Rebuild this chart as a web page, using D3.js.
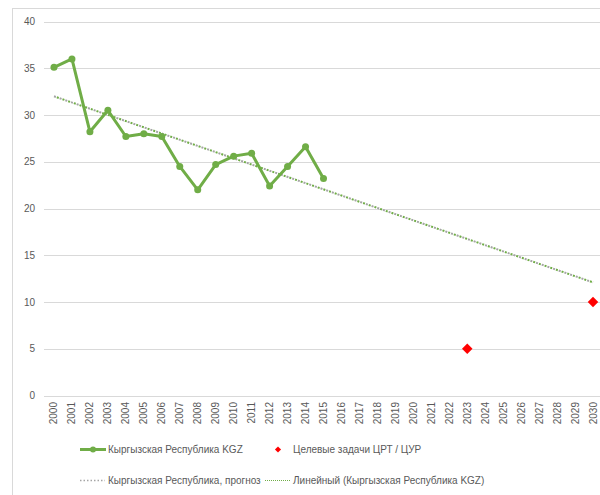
<!DOCTYPE html>
<html>
<head>
<meta charset="utf-8">
<script src="https://cdn.jsdelivr.net/npm/d3@7"></script>
<style>
  body { margin: 0; background: #fff; }
  svg { display: block; font-family: "Liberation Sans", Arial, sans-serif; }
</style>
</head>
<body>
<div class="chartsWrapper"></div>
<script>
// categories on the x axis
var years = d3.range(2000, 2031).map(String)

// Кыргызская Республика KGZ
var kgzYears  = ['2000','2001','2002','2003','2004','2005','2006','2007','2008','2009','2010','2011','2012','2013','2014','2015']
var kgzValues = [35.1, 36.0, 28.2, 30.5, 27.7, 28.0, 27.7, 24.5, 22.0, 24.7, 25.6, 25.9, 22.4, 24.5, 26.6, 23.2]

// targets ЦРТ / ЦУР
var targetYears  = ['2023', '2030']
var targetValues = [5, 10]

// forecast and linear trend (end points)
var forecastYears  = ['2000', '2030']
var forecastValues = [32.0, 12.1]
var trendYears  = ['2000', '2030']
var trendValues = [32.0, 12.1]

var yTicks = [0, 5, 10, 15, 20, 25, 30, 35, 40]

var legendLabels = ['Кыргызская Республика KGZ', 'Целевые задачи ЦРТ / ЦУР',
                    'Кыргызская Республика, прогноз', 'Линейный (Кыргызская Республика KGZ)']

renderChart()

function renderChart () {
    var width = 600, height = 495
    var green = '#70ad47', grey = '#a5a5a5', textCol = '#595959'

    var svg = d3.select('.chartsWrapper').append('svg')
        .attr('width', width)
        .attr('height', height)

    // chart area frame
    svg.append('rect')
        .attr('x', 12.5).attr('y', 8.5)
        .attr('width', 620).attr('height', 520)
        .attr('fill', 'none').attr('stroke', '#d9d9d9')

    var x = d3.scaleBand().domain(years).range([45, 602])
    var y = d3.scaleLinear().domain([0, 40]).range([395.5, 21.5])
    var cx = function (yr) { return x(yr) + x.bandwidth() / 2 }

    // gridlines
    svg.append('g').selectAll('line')
        .data(yTicks).enter().append('line')
        .attr('x1', 44).attr('x2', 602)
        .attr('y1', function (d) { return Math.round(y(d)) + 0.5 })
        .attr('y2', function (d) { return Math.round(y(d)) + 0.5 })
        .attr('stroke', '#d9d9d9').attr('stroke-width', 1)

    // y labels
    svg.append('g').selectAll('text')
        .data(yTicks).enter().append('text')
        .attr('x', 35).attr('y', function (d) { return y(d) + 3.5 })
        .attr('text-anchor', 'end')
        .attr('font-size', 10).attr('fill', textCol)
        .text(function (d) { return d })

    // x labels (rotated)
    svg.append('g').selectAll('text')
        .data(years).enter().append('text')
        .attr('transform', function (d) { return 'translate(' + (cx(d) + 3.5) + ',402) rotate(-90)' })
        .attr('text-anchor', 'end')
        .attr('font-size', 10).attr('fill', textCol)
        .text(function (d) { return d })

    var line = d3.line()
        .x(function (d) { return cx(d[0]) })
        .y(function (d) { return y(d[1]) })

    // forecast + linear trend
    svg.append('path')
        .datum(d3.zip(forecastYears, forecastValues))
        .attr('d', line)
        .attr('fill', 'none').attr('stroke', grey)
        .attr('stroke-width', 2).attr('stroke-dasharray', '2,4')
    svg.append('path')
        .datum(d3.zip(trendYears, trendValues))
        .attr('d', line)
        .attr('fill', 'none').attr('stroke', green)
        .attr('stroke-width', 2).attr('stroke-dasharray', '2,4')
        .attr('stroke-dashoffset', 3)

    // main series
    var kgz = d3.zip(kgzYears, kgzValues)
    svg.append('path')
        .datum(kgz)
        .attr('d', line)
        .attr('fill', 'none').attr('stroke', green)
        .attr('stroke-width', 3).attr('stroke-linejoin', 'round')
    svg.append('g').selectAll('circle')
        .data(kgz).enter().append('circle')
        .attr('cx', function (d) { return cx(d[0]) })
        .attr('cy', function (d) { return y(d[1]) })
        .attr('r', 3.5).attr('fill', green)

    // targets
    var diamond = d3.symbol().type(d3.symbolDiamond2).size(70)
    svg.append('g').selectAll('path')
        .data(d3.zip(targetYears, targetValues)).enter().append('path')
        .attr('d', diamond)
        .attr('transform', function (d) { return 'translate(' + cx(d[0]) + ',' + y(d[1]) + ')' })
        .attr('fill', '#ff0000')

    // legend
    var lg = svg.append('g').attr('font-size', 10).attr('fill', textCol)

    lg.append('line').attr('x1', 80).attr('x2', 106).attr('y1', 449.5).attr('y2', 449.5)
        .attr('stroke', green).attr('stroke-width', 3)
    lg.append('circle').attr('cx', 93).attr('cy', 449.5).attr('r', 3).attr('fill', green)
    lg.append('text').attr('x', 108).attr('y', 453).attr('fill', textCol).text(legendLabels[0])

    lg.append('path').attr('d', d3.symbol().type(d3.symbolDiamond2).size(24))
        .attr('transform', 'translate(278,449.5)').attr('fill', '#ff0000')
    lg.append('text').attr('x', 293).attr('y', 453).attr('fill', textCol).text(legendLabels[1])

    lg.append('line').attr('x1', 80).attr('x2', 105).attr('y1', 480.5).attr('y2', 480.5)
        .attr('stroke', grey).attr('stroke-width', 1.5).attr('stroke-dasharray', '1.5,2')
    lg.append('text').attr('x', 108).attr('y', 484).attr('fill', textCol).text(legendLabels[2])

    lg.append('line').attr('x1', 265).attr('x2', 290).attr('y1', 480.5).attr('y2', 480.5)
        .attr('stroke', green).attr('stroke-width', 1).attr('stroke-dasharray', '1,1')
    lg.append('text').attr('x', 293).attr('y', 484).attr('fill', textCol).text(legendLabels[3])
}
</script>
</body>
</html>
